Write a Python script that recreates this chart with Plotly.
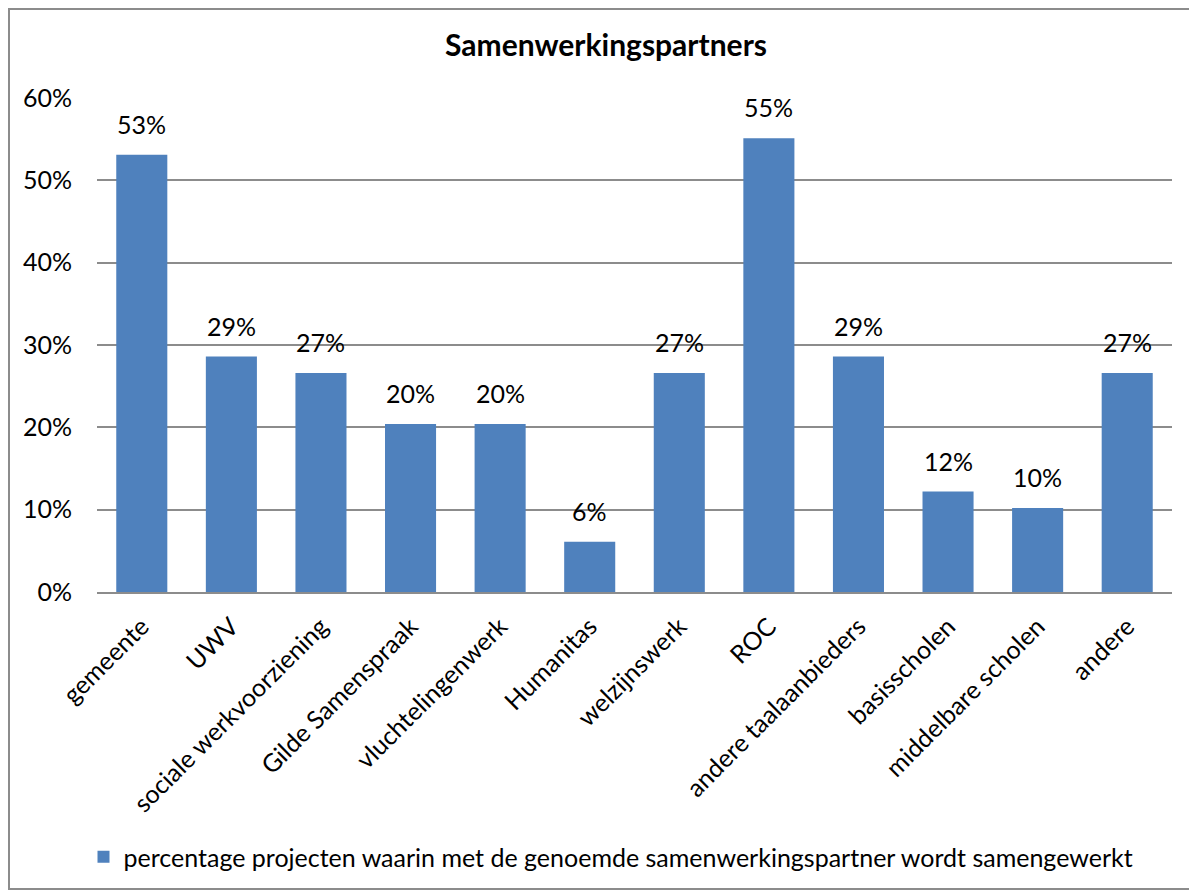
import plotly.graph_objects as go

# samenwerkingspartners, aandeel projecten (n = 49)
partners = ["gemeente", "UWV", "sociale werkvoorziening", "Gilde Samenspraak",
            "vluchtelingenwerk", "Humanitas", "welzijnswerk", "ROC",
            "andere taalaanbieders", "basisscholen", "middelbare scholen", "andere"]
aandeel = [0.531, 0.286, 0.266, 0.204, 0.204, 0.061, 0.266, 0.551,
           0.286, 0.122, 0.102, 0.266]
yticks = [0, 0.1, 0.2, 0.3, 0.4, 0.5, 0.6]
serie = "percentage projecten waarin met de genoemde samenwerkingspartner wordt samengewerkt"

# page has an 8px body margin, so the figure is drawn 8px smaller
OFF = 8
W, H = 1197 - OFF, 892 - OFF
L, R, T, B = 97 - OFF, 25, 98 - OFF, 300

fnt = "Lato, 'Open Sans', sans-serif"
grijs = "#8c8c8c"

fig = go.Figure()
fig.add_trace(go.Bar(
    x=partners, y=aandeel, name=serie,
    marker=dict(color="#4f81bd", line=dict(width=0)),
    showlegend=True,
))

# data labels above the bars
for p, v in zip(partners, aandeel):
    fig.add_annotation(x=p, y=v, text=f"{v:.0%}", showarrow=False,
                       yanchor="bottom", yshift=14,
                       font=dict(size=25, color="black", family=fnt))

pw, ph = W - L - R, H - T - B
def px2paper_x(p):
    return (p - OFF - L) / pw
def px2paper_y(p):
    return (H - B - (p - OFF)) / ph

fig.add_shape(type="rect", xref="paper", yref="paper",
              x0=px2paper_x(OFF + 1), x1=px2paper_x(1195),
              y0=px2paper_y(889), y1=px2paper_y(OFF + 1),
              line=dict(color=grijs, width=2), layer="below")

fig.update_layout(
    width=W, height=H,
    margin=dict(l=L, r=R, t=T, b=B),
    plot_bgcolor="white", paper_bgcolor="white",
    font=dict(family=fnt, size=25, color="black"),
    title=dict(text="<b>Samenwerkingspartners</b>", x=px2paper_x(606), xref="paper",
               y=1 - (45 - OFF) / H, yanchor="middle", xanchor="center",
               font=dict(size=30, color="black", family=fnt)),
    bargap=0.43,
    showlegend=True,
    legend=dict(orientation="h", x=px2paper_x(611), xanchor="center",
                y=px2paper_y(857), yanchor="middle",
                font=dict(size=25, color="black", family=fnt),
                itemwidth=30),
    xaxis=dict(tickangle=-45, showgrid=False, showline=True,
               linecolor=grijs, linewidth=2, ticks="",
               ticklabelstandoff=8,
               tickfont=dict(size=25, color="black")),
    yaxis=dict(range=[0, 0.6], tickvals=yticks, tickformat=".0%",
               showgrid=True, gridcolor=grijs, gridwidth=1.5,
               zeroline=False, showline=False, ticks="",
               ticklabelstandoff=24,
               tickfont=dict(size=25, color="black")),
)

fig.write_html("out.html")
